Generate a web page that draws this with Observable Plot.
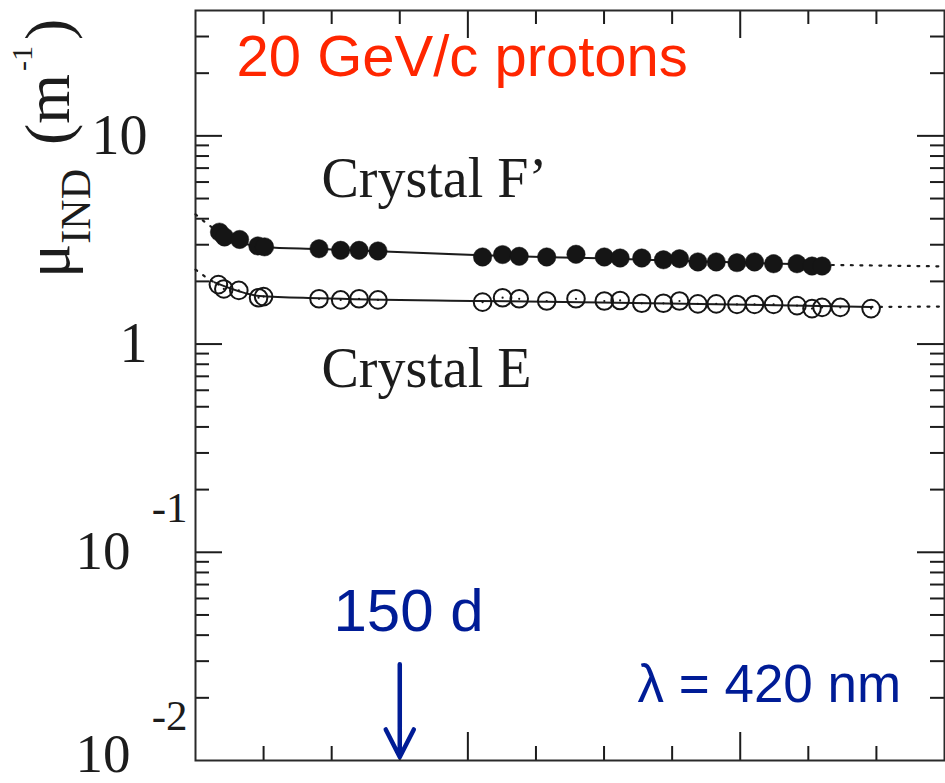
<!DOCTYPE html>
<html><head><meta charset="utf-8">
<script src="https://cdn.jsdelivr.net/npm/d3@7"></script>
<script src="https://cdn.jsdelivr.net/npm/@observablehq/plot@0.6"></script>
<style>body{margin:0;background:#fff}</style>
</head><body><div id="chart"></div>
<script>
// Crystal F' (filled circles): day, mu_IND (1/m)
const dayF = [17.6, 21.3, 32.4, 45.8, 50.7, 90.7, 106.6, 120.1, 134.0, 210.8, 225.5, 237.7, 257.9, 279.4, 300.2, 311.8, 327.7, 343.6, 355.4, 368.9, 382.4, 397.6, 410.5, 424.5, 441.7, 452.7, 460.1];
const muF  = [3.45, 3.27, 3.18, 2.96, 2.93, 2.87, 2.82, 2.82, 2.80, 2.62, 2.69, 2.64, 2.62, 2.70, 2.62, 2.59, 2.59, 2.54, 2.57, 2.48, 2.48, 2.46, 2.48, 2.43, 2.43, 2.37, 2.37];
// Crystal E (open circles)
const dayE = [16.8, 20.8, 31.8, 46.3, 50.0, 90.7, 106.6, 120.1, 134.0, 210.8, 225.5, 237.7, 257.9, 279.4, 300.2, 311.8, 327.7, 343.6, 355.4, 368.9, 382.4, 397.6, 410.5, 424.5, 441.7, 452.7, 460.1, 473.5, 496.1];
const muE  = [1.93, 1.84, 1.81, 1.67, 1.69, 1.65, 1.63, 1.65, 1.63, 1.59, 1.67, 1.65, 1.61, 1.65, 1.61, 1.62, 1.57, 1.57, 1.61, 1.56, 1.56, 1.55, 1.55, 1.55, 1.53, 1.48, 1.50, 1.50, 1.48];
// Fit curves (solid over data range, dotted extrapolation)
const fitFSolidDay = [16.2, 25, 39.7, 50.7, 91.2, 134, 210, 297, 370.6, 460.3];
const fitFSolidMu  = [3.48, 3.20, 3.00, 2.915, 2.858, 2.789, 2.668, 2.580, 2.496, 2.401];
const fitFDotLDay = [0, 8, 16.2];
const fitFDotLMu  = [4.2, 3.8, 3.48];
const fitFDotRDay = [460.3, 550];
const fitFDotRMu  = [2.401, 2.361];
const fitESolidDay = [14, 32.4, 47, 91.2, 208.8, 297, 370.6, 495.6];
const fitESolidMu  = [1.978, 1.789, 1.702, 1.660, 1.611, 1.584, 1.558, 1.507];
const fitEDotLDay = [0, 9, 14];
const fitEDotLMu  = [2.28, 2.06, 1.978];
const fitEDotRDay = [495.6, 550];
const fitEDotRMu  = [1.507, 1.515];
// Axis ticks
const xMinorTicks = [50, 100, 150, 250, 300, 350, 450, 500];
const xMajorTicks = [200, 400];
const yMajorTicks = [0.1, 1, 10];
const yMinorTicks = [0.02,0.03,0.04,0.05,0.06,0.07,0.08,0.09, 0.2,0.3,0.4,0.5,0.6,0.7,0.8,0.9, 2,3,4,5,6,7,8,9, 20,30];
const yPlainLabels = [{v: 10, t: "10"}, {v: 1, t: "1"}];
const yPowBaseMid = [{v: 0.1, t: "10"}];
const yPowBaseLow = [{v: 0.01, t: "10"}];
const yPowExp = [{v: 0.1, t: "-1"}, {v: 0.01, t: "-2"}];
// Annotations
const arrowData = [{day: 150, from: 0.029, to: 0.0104}];

const pts = (xs, ys) => xs.map((x, i) => ({x, y: ys[i]}));

const W = 945, H = 783;
const mL = 195, mR = 1, mT = 10, mB = 23;
const pw = W - mL - mR, ph = H - mT - mB;
const ink = "#1c1c1c";
const blue = "#001c96";
const dotted = {stroke: ink, strokeWidth: 2.2, strokeDasharray: "2,7.5"};
const ann = {frameAnchor: "top-left", textAnchor: "start", lineAnchor: "middle"};
const tickLab = {y: "v", text: "t", frameAnchor: "left", lineAnchor: "middle", textAnchor: "end", fill: ink};

const plot = Plot.plot({
  width: W, height: H,
  marginLeft: mL, marginRight: mR, marginTop: mT, marginBottom: mB,
  style: {fontFamily: "Liberation Serif", background: "white", overflow: "visible"},
  x: {type: "linear", domain: [0, 550], axis: null},
  y: {type: "log", domain: [0.01, 40], axis: null},
  marks: [
    // ticks (inward, all four sides)
    Plot.ruleX(xMinorTicks, {x: d => d, insetTop: ph - 14, stroke: ink, strokeWidth: 2}),
    Plot.ruleX(xMajorTicks, {x: d => d, insetTop: ph - 28, stroke: ink, strokeWidth: 2}),
    Plot.ruleX(xMinorTicks, {x: d => d, insetBottom: ph - 14, stroke: ink, strokeWidth: 2}),
    Plot.ruleX(xMajorTicks, {x: d => d, insetBottom: ph - 28, stroke: ink, strokeWidth: 2}),
    Plot.ruleY(yMinorTicks, {y: d => d, insetRight: pw - 14, stroke: ink, strokeWidth: 2}),
    Plot.ruleY(yMajorTicks, {y: d => d, insetRight: pw - 27, stroke: ink, strokeWidth: 2}),
    Plot.ruleY(yMinorTicks, {y: d => d, insetLeft: pw - 14, stroke: ink, strokeWidth: 2}),
    Plot.ruleY(yMajorTicks, {y: d => d, insetLeft: pw - 27, stroke: ink, strokeWidth: 2}),
    Plot.frame({stroke: "#2a2a2a", strokeWidth: 2}),
    // y tick labels
    Plot.text(yPlainLabels, {...tickLab, dx: -48, fontSize: 56}),
    Plot.text(yPowBaseMid, {...tickLab, dx: -65, dy: -1, fontSize: 55}),
    Plot.text(yPowBaseLow, {...tickLab, dx: -65, dy: -6, fontSize: 55}),
    Plot.text(yPowExp, {...tickLab, dx: -8, dy: -44, fontSize: 43}),
    // fit lines
    Plot.line(pts(fitFDotLDay, fitFDotLMu), {x: "x", y: "y", ...dotted}),
    Plot.line(pts(fitFDotRDay, fitFDotRMu), {x: "x", y: "y", ...dotted}),
    Plot.line(pts(fitEDotLDay, fitEDotLMu), {x: "x", y: "y", ...dotted}),
    Plot.line(pts(fitEDotRDay, fitEDotRMu), {x: "x", y: "y", ...dotted}),
    Plot.line(pts(fitFSolidDay, fitFSolidMu), {x: "x", y: "y", stroke: ink, strokeWidth: 2, curve: "monotone-x"}),
    Plot.line(pts(fitESolidDay, fitESolidMu), {x: "x", y: "y", stroke: ink, strokeWidth: 2, curve: "monotone-x"}),
    // data
    Plot.dot(pts(dayF, muF), {x: "x", y: "y", r: 9.2, fill: "#151515", stroke: "#151515", strokeWidth: 0.5}),
    Plot.dot(pts(dayE, muE), {x: "x", y: "y", r: 8.8, fill: "none", stroke: "#151515", strokeWidth: 2}),
    Plot.dot(pts(dayE, muE), {x: "x", y: "y", r: 1.1, fill: "#151515"}),
    // annotations
    Plot.text(["20 GeV/c protons"], {...ann, dx: 41, dy: 47, fontSize: 58, fontFamily: "Liberation Sans", fill: "#ff2600"}),
    Plot.text(["Crystal F\u2019"], {...ann, dx: 126, dy: 169, fontSize: 56, fill: ink}),
    Plot.text(["Crystal E"], {...ann, dx: 126, dy: 359, fontSize: 56, fill: ink}),
    Plot.text(["150 d"], {...ann, dx: 138, dy: 601, fontSize: 60, fontFamily: "Liberation Sans", fill: blue}),
    Plot.text(["\u03bb = 420 nm"], {...ann, dx: 442, dy: 675, fontSize: 53, fontFamily: "Liberation Sans", fill: blue}),
    Plot.arrow(arrowData, {x1: "day", x2: "day", y1: "from", y2: "to", stroke: blue, strokeWidth: 4.5, headLength: 34, headAngle: 54})
  ]
});

// y-axis title with subscript / superscript
const svg = d3.select(plot);
const t = svg.append("text")
  .attr("transform", "translate(69,278) rotate(-90)")
  .attr("text-anchor", "start")
  .attr("font-family", "Liberation Serif")
  .attr("font-size", 64)
  .attr("fill", ink);
t.append("tspan").text("\u03bc");
t.append("tspan").attr("font-size", 42).attr("dy", 21).text("IND");
t.append("tspan").attr("dy", -21).attr("dx", 24).text("(m");
t.append("tspan").attr("font-size", 30).attr("dy", -37).attr("dx", 3).text("-1");
t.append("tspan").attr("dy", 37).attr("dx", 6).text(")");

document.getElementById("chart").appendChild(plot);
</script>
</body></html>
